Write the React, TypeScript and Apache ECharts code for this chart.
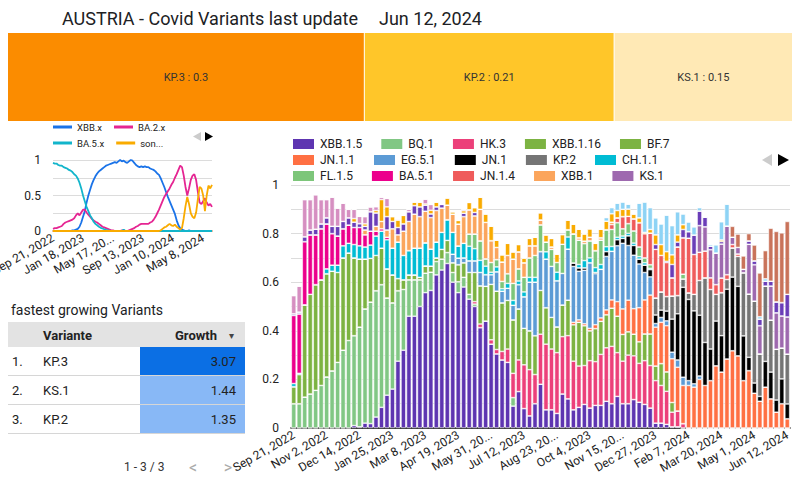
import React, { useEffect, useRef } from "react";
import * as echarts from "echarts";

// ---------- categories (weekly) ----------
const weeks = [
  "2022-09-21","2022-09-28","2022-10-05","2022-10-12","2022-10-19","2022-10-26","2022-11-02","2022-11-09","2022-11-16","2022-11-23",
  "2022-11-30","2022-12-07","2022-12-14","2022-12-21","2022-12-28","2023-01-04","2023-01-11","2023-01-18","2023-01-25","2023-02-01",
  "2023-02-08","2023-02-15","2023-02-22","2023-03-01","2023-03-08","2023-03-15","2023-03-22","2023-03-29","2023-04-05","2023-04-12",
  "2023-04-19","2023-04-26","2023-05-03","2023-05-10","2023-05-17","2023-05-24","2023-05-31","2023-06-07","2023-06-14","2023-06-21",
  "2023-06-28","2023-07-05","2023-07-12","2023-07-19","2023-07-26","2023-08-02","2023-08-09","2023-08-16","2023-08-23","2023-08-30",
  "2023-09-06","2023-09-13","2023-09-20","2023-09-27","2023-10-04","2023-10-11","2023-10-18","2023-10-25","2023-11-01","2023-11-08",
  "2023-11-15","2023-11-22","2023-11-29","2023-12-06","2023-12-13","2023-12-20","2023-12-27","2024-01-03","2024-01-10","2024-01-17",
  "2024-01-24","2024-01-31","2024-02-07","2024-02-14","2024-02-21","2024-02-28","2024-03-06","2024-03-13","2024-03-20","2024-03-27",
  "2024-04-03","2024-04-10","2024-04-17","2024-04-24","2024-05-01","2024-05-08","2024-05-15","2024-05-22","2024-05-29","2024-06-05",
  "2024-06-12",
];

const barTickLabels = [
  "Sep 21, 2022","Nov 2, 2022","Dec 14, 2022","Jan 25, 2023","Mar 8, 2023","Apr 19, 2023","May 31, 20...","Jul 12, 2023",
  "Aug 23, 20...","Oct 4, 2023","Nov 15, 20...","Dec 27, 2023","Feb 7, 2024","Mar 20, 2024","May 1, 2024","Jun 12, 2024",
];
const lineTickLabels = ["Sep 21, 2022","Jan 18, 2023","May 17, 20...","Sep 13, 2023","Jan 10, 2024","May 8, 2024"];
const yTickLabelsBar = ["0","0.2","0.4","0.6","0.8","1"];
const yTickLabelsLine = ["0","0.5","1"];

// ---------- stacked bar series (variant shares) ----------
const XBB15 = [
  0,0,0,0,0,0,0,0,0,0,
  0,0.01,0.005,0.02,0.018,0.045,0.085,0.135,0.16,0.275,
  0.32,0.46,0.46,0.5,0.557,0.566,0.63,0.65,0.677,0.6,
  0.557,0.58,0.53,0.5,0.413,0.44,0.345,0.305,0.28,0.27,
  0.09,0.15,0.08,0.05,0.1,0.18,0.075,0.075,0.06,0.14,
  0.12,0.075,0.085,0.097,0.082,0.093,0.093,0.11,0.1,0.13,
  0.1,0.1,0.117,0.106,0.097,0.082,0.02,0.02,0.015,0.005,
  0.005,0,0,0,0,0,0,0,0,0,
  0,0,0,0,0,0,0,0,0,0,0,
];
const BQ1 = [
  0.1,0.1,0.127,0.14,0.155,0.175,0.21,0.235,0.27,0.32,
  0.36,0.37,0.41,0.47,0.5,0.52,0.505,0.4,0.355,0.29,
  0.25,0.15,0.15,0.11,0.08,0.075,0.055,0.045,0.045,0.04,
  0.045,0.04,0.02,0.01,0,0,0,0,0,0,
  0.035,0,0,0,0,0,0,0,0,0,
  0,0,0,0,0,0,0,0,0,0,
  0,0,0,0,0,0,0,0,0,0,
  0,0,0,0,0,0,0,0,0,0,
  0,0,0,0,0,0,0,0,0,0,0,
];
const HK3 = [
  0,0,0,0,0,0,0,0,0,0,
  0,0,0,0,0,0,0,0,0,0,
  0,0,0,0,0,0,0,0,0,0,
  0,0,0,0.01,0.015,0,0.018,0.018,0.035,0.055,
  0.1,0.13,0.18,0.19,0.12,0.206,0.27,0.25,0.25,0.236,
  0.26,0.2,0.17,0.16,0.195,0.18,0.21,0.22,0.236,0.18,
  0.175,0.2,0.18,0.16,0.18,0.175,0.175,0.155,0.136,0.06,
  0.065,0.018,0,0,0,0,0,0,0,0,
  0,0,0,0,0,0,0,0,0,0,0,
];
const XBB116 = [
  0,0,0,0,0,0,0,0,0,0,
  0,0,0,0,0,0,0,0,0,0,
  0,0,0,0,0.03,0.025,0.015,0.04,0.05,0.04,
  0.07,0.06,0.09,0.12,0.157,0.143,0.228,0.24,0.2,0.2,
  0.22,0.21,0.15,0.16,0.16,0.18,0.15,0.13,0.106,0.13,
  0.146,0.15,0.18,0.164,0.123,0.136,0.136,0.136,0.157,0.15,
  0.11,0.096,0.089,0.089,0.11,0.13,0.06,0.09,0.08,0.04,
  0,0,0,0,0,0,0,0,0,0,
  0,0,0,0,0,0,0,0,0,0,0,
];
const BF7 = [
  0.07,0.12,0.38,0.41,0.435,0.435,0.425,0.41,0.37,0.38,
  0.36,0.32,0.28,0.205,0.18,0.145,0.15,0.12,0.115,0.05,
  0.04,0.02,0.02,0.01,0,0,0,0,0,0,
  0,0,0,0,0,0,0,0,0,0,
  0,0,0,0,0,0,0,0,0,0,
  0,0,0,0,0,0,0,0,0,0,
  0,0,0,0,0,0,0,0,0,0,
  0,0,0,0,0,0,0,0,0,0,
  0,0,0,0,0,0,0,0,0,0,0,
];
const JN11 = [
  0,0,0,0,0,0,0,0,0,0,
  0,0,0,0,0,0,0,0,0,0,
  0,0,0,0,0,0,0,0,0,0,
  0,0,0,0,0,0,0,0,0,0,
  0,0,0,0,0,0,0,0,0,0,
  0,0.01,0.01,0.008,0.01,0.016,0.014,0.02,0.034,0.06,
  0.105,0.13,0.105,0.14,0.14,0.16,0.16,0.17,0.19,0.18,
  0.18,0.157,0.175,0.168,0.2,0.175,0.195,0.256,0.23,0.284,
  0.318,0.297,0.195,0.236,0.143,0.11,0.168,0.12,0.065,0.1,0.038,
];
const EG51 = [
  0,0,0,0,0,0,0,0,0,0,
  0,0,0,0,0,0,0,0,0,0,
  0,0,0,0,0,0,0,0,0,0.035,
  0.027,0.02,0.048,0.048,0.055,0.048,0.04,0.08,0.048,0.05,
  0.06,0.1,0.13,0.2,0.22,0.16,0.2,0.21,0.19,0.13,
  0.21,0.23,0.2,0.22,0.27,0.21,0.2,0.22,0.2,0.23,
  0.27,0.225,0.22,0.18,0.113,0.075,0.015,0.02,0.02,0.027,
  0.03,0.034,0.02,0.014,0.014,0,0,0,0,0,
  0,0,0,0,0,0,0,0,0,0,0,
];
const JN1 = [
  0,0,0,0,0,0,0,0,0,0,
  0,0,0,0,0,0,0,0,0,0,
  0,0,0,0,0,0,0,0,0,0,
  0,0,0,0,0,0,0,0,0,0,
  0,0,0,0,0,0,0,0,0,0,
  0,0.014,0.014,0.01,0,0.005,0,0.02,0,0.025,
  0.02,0.04,0.04,0.02,0.03,0.03,0.035,0.03,0.04,0.136,
  0.19,0.37,0.334,0.3,0.25,0.177,0.13,0.184,0.15,0.287,
  0.303,0.286,0.184,0.055,0.042,0.02,0.106,0.11,0.05,0.102,0.061,
];
const KP2 = [
  0,0,0,0,0,0,0,0,0,0,
  0,0,0,0,0,0,0,0,0,0,
  0,0,0,0,0,0,0,0,0,0,
  0,0,0,0,0,0,0,0,0,0,
  0,0,0,0,0,0,0,0,0,0,
  0,0,0,0,0,0,0,0,0,0,
  0,0,0,0,0,0,0.07,0.075,0.06,0.095,
  0.075,0.034,0.027,0.068,0.143,0.266,0.245,0.11,0.177,0.04,
  0.12,0.123,0.26,0.26,0.337,0.175,0.31,0.214,0.209,0.127,0.205,
];
const CH11 = [
  0.013,0.005,0,0,0,0,0.02,0.025,0.03,0.05,
  0.04,0.055,0.055,0.05,0.055,0.08,0.07,0.12,0.11,0.15,
  0.1,0.1,0.11,0.12,0.095,0.07,0.065,0.07,0.085,0.09,
  0.05,0.06,0.06,0.05,0.05,0.035,0.01,0.02,0.01,0.02,
  0.02,0.015,0.02,0.02,0.02,0,0.03,0,0.035,0,
  0.05,0,0.014,0.03,0.02,0.02,0.02,0.02,0.02,0.01,
  0.01,0.01,0.01,0.01,0.01,0.005,0,0,0,0,
  0,0,0,0,0,0,0,0,0,0,
  0,0,0,0,0,0,0,0,0,0,0,
];
const FL15 = [
  0,0,0,0,0,0,0,0,0,0,
  0,0,0,0,0,0,0,0,0,0,
  0,0,0,0,0,0,0,0,0,0,
  0,0,0.05,0.06,0.08,0.03,0.04,0.03,0.03,0.04,
  0.07,0.05,0.06,0.08,0.09,0.11,0.04,0.07,0.04,0.12,
  0.03,0.12,0.1,0.07,0.07,0.07,0.1,0.07,0.07,0.06,
  0.03,0.04,0.05,0.04,0.02,0.015,0,0,0,0,
  0,0.02,0,0,0,0,0,0,0,0,
  0,0,0,0,0,0,0,0,0,0,0,
];
const BA51 = [
  0.28,0.245,0.26,0.245,0.205,0.21,0.185,0.13,0.12,0.07,
  0.075,0.07,0.075,0.05,0.057,0.02,0.01,0.01,0,0,
  0,0,0,0,0,0,0,0,0,0,
  0,0,0,0,0,0,0,0,0,0,
  0,0,0,0,0,0,0,0,0,0,
  0,0,0,0,0,0,0,0,0,0,
  0,0,0,0,0,0,0,0,0,0,
  0,0,0,0,0,0,0,0,0,0,
  0,0,0,0,0,0,0,0,0,0,0,
];
const JN14 = [
  0,0,0,0,0,0,0,0,0,0,
  0,0,0,0,0,0,0,0,0,0,
  0,0,0,0,0,0,0,0,0,0,
  0,0,0,0,0,0,0,0,0,0,
  0,0,0,0,0,0,0,0,0,0,
  0,0,0,0,0,0,0,0,0.02,0.02,
  0.05,0.03,0.05,0.1,0.1,0.13,0.2,0.15,0.14,0.075,
  0.2,0.15,0.225,0.164,0.116,0.11,0.048,0.04,0.06,0.02,
  0.014,0.01,0,0,0,0,0,0,0,0,0,
];
const XBB1 = [
  0,0,0,0,0,0,0,0,0,0,
  0,0,0,0.02,0,0.02,0.03,0.03,0.08,0.03,
  0.1,0.12,0.14,0.13,0.13,0.13,0.13,0.1,0.06,0.075,
  0.09,0.11,0.1,0.075,0.13,0.15,0.09,0.05,0.08,0.075,
  0.1,0.07,0.06,0.05,0.04,0.02,0,0.01,0,0,
  0,0,0.01,0.01,0.015,0,0.01,0,0.01,0,
  0,0,0,0,0,0,0,0,0,0,
  0,0,0,0,0,0,0,0,0,0,
  0,0,0,0,0,0,0,0,0,0,0,
];
const KS1 = [
  0,0,0,0,0,0,0,0,0,0,
  0,0,0,0,0,0,0,0,0,0,
  0,0,0,0,0,0,0,0,0,0,
  0,0,0,0,0,0,0,0,0,0,
  0,0,0,0,0,0,0,0,0,0,
  0,0,0,0,0,0,0,0,0,0,
  0,0,0,0,0,0,0,0,0,0,
  0,0,0,0,0.11,0.1,0.116,0.13,0.14,0.2,
  0.03,0.027,0.014,0.205,0.15,0.116,0,0.14,0.15,0.132,0.153,
];
const BN1 = [
  0.007,0.007,0.02,0.02,0.023,0.02,0.025,0.03,0.04,0.03,
  0.03,0.022,0.016,0.015,0.08,0.055,0,0.055,0.03,0.03,
  0.03,0.04,0.035,0.04,0.025,0.015,0.015,0.015,0,0,
  0,0.014,0,0.014,0,0,0,0,0,0,
  0,0,0,0,0,0,0,0,0,0,
  0,0,0,0,0,0,0,0,0,0,
  0,0,0,0,0,0,0,0,0,0,
  0,0,0,0,0,0,0,0,0,0,
  0,0,0,0,0,0,0,0,0,0,0,
];
const KP11 = [
  0,0,0,0,0,0,0,0,0,0,
  0,0,0,0,0,0,0,0,0,0,
  0,0,0,0,0,0,0,0,0,0,
  0,0,0,0,0,0,0,0,0,0,
  0,0,0,0,0,0,0,0,0,0,
  0,0,0,0,0,0,0,0,0,0,
  0,0,0,0,0,0,0.02,0,0.005,0.055,
  0.02,0.034,0.027,0.08,0.06,0.04,0.014,0,0.01,0,
  0,0,0,0.014,0.016,0.027,0.02,0.02,0.045,0.055,0.093,
];
const XBB19 = [
  0,0,0,0,0,0,0,0,0,0,
  0,0.015,0,0.01,0,0.01,0.09,0.04,0.02,0.03,
  0.035,0,0.015,0.02,0.005,0.015,0.02,0,0.03,0.01,
  0.015,0.01,0.03,0.02,0.05,0.035,0.06,0.03,0.03,0.05,
  0.03,0.03,0.02,0.03,0.035,0.03,0.03,0.035,0.035,0.04,
  0.04,0.04,0.035,0.03,0.035,0.03,0.035,0.035,0.035,0.03,
  0.03,0.03,0.02,0.02,0.005,0.015,0.04,0.045,0.04,0.04,
  0.03,0.02,0,0,0,0,0,0,0.007,0,
  0,0,0,0,0,0,0,0,0,0,0,
];
const BA275 = [
  0.075,0.107,0.153,0.125,0.142,0.1,0.075,0.12,0.075,0.075,
  0.035,0.038,0.03,0.03,0.02,0.016,0.01,0.035,0,0.005,
  0,0.01,0,0,0.02,0.024,0,0,0,0,
  0,0.006,0,0,0,0,0,0,0,0,
  0,0,0,0,0,0,0,0,0,0,
  0,0,0,0,0,0,0,0,0,0,
  0,0,0,0,0,0,0,0,0,0,
  0,0,0,0,0,0,0,0,0,0,
  0,0,0,0,0,0,0,0,0,0,0,
];
const JN17 = [
  0,0,0,0,0,0,0,0,0,0,
  0,0,0,0,0,0,0,0,0,0,
  0,0,0,0,0,0,0,0,0,0,
  0,0,0,0,0,0,0,0,0,0,
  0,0,0,0,0,0,0,0,0,0,
  0,0,0,0,0,0,0,0.015,0.025,0.03,
  0.03,0.02,0,0.06,0.125,0.09,0.07,0.085,0.15,0.12,
  0.095,0.044,0.04,0.034,0.014,0,0.007,0.034,0.075,0.09,
  0,0,0,0,0,0.01,0.01,0,0,0,0,
];
const KP3 = [
  0,0,0,0,0,0,0,0,0,0,
  0,0,0,0,0,0,0,0,0,0,
  0,0,0,0,0,0,0,0,0,0,
  0,0,0,0,0,0,0,0,0,0,
  0,0,0,0,0,0,0,0,0,0,
  0,0,0,0,0,0,0,0,0,0,
  0,0,0,0,0,0,0,0,0,0,
  0,0,0,0,0,0,0,0,0,0,
  0.045,0.055,0.055,0.03,0.065,0.18,0.116,0.218,0.29,0.287,0.3,
];

// ---------- line chart series (lineage groups) ----------
const XBBx = [
  0,0,0,0,0,0,0,0,0,0,
  0,0.01,0.01,0.02,0.03,0.06,0.12,0.2,0.28,0.4,
  0.5,0.58,0.66,0.72,0.77,0.81,0.84,0.86,0.88,0.9,
  0.92,0.93,0.94,0.95,0.96,0.97,0.96,0.98,1,0.98,
  0.99,0.97,0.96,0.98,1,0.99,0.96,0.93,0.91,0.9,
  0.91,0.9,0.91,0.9,0.9,0.88,0.87,0.86,0.84,0.81,
  0.79,0.74,0.68,0.62,0.55,0.48,0.42,0.36,0.3,0.24,
  0.15,0.08,0.04,0.02,0.01,0,0,0.01,0,0,
  0,0,0,0,0,0,0,0,0,0,0,
];
const BA2x = [
  0.03,0.04,0.04,0.05,0.06,0.07,0.1,0.12,0.13,0.14,
  0.15,0.16,0.18,0.22,0.25,0.22,0.26,0.3,0.3,0.26,
  0.23,0.2,0.17,0.15,0.13,0.12,0.1,0.08,0.06,0.05,
  0.04,0.03,0.02,0.01,0.01,0,0,0,0,0.01,
  0.01,0,0,0.01,0.02,0.03,0.04,0.06,0.07,0.09,
  0.1,0.1,0.1,0.1,0.1,0.12,0.13,0.16,0.2,0.25,
  0.3,0.36,0.42,0.48,0.52,0.56,0.6,0.65,0.69,0.75,
  0.8,0.86,0.92,0.9,0.78,0.62,0.5,0.6,0.72,0.78,
  0.8,0.72,0.55,0.4,0.38,0.42,0.46,0.4,0.36,0.38,0.34,
];
const BA5x = [
  0.96,0.95,0.95,0.93,0.92,0.92,0.9,0.89,0.88,0.86,
  0.85,0.83,0.8,0.78,0.74,0.68,0.6,0.5,0.42,0.34,
  0.28,0.22,0.18,0.13,0.1,0.08,0.06,0.045,0.035,0.025,
  0.015,0.01,0.005,0,0,0,0,0,0,0,
  0.02,0,0,0,0,0,0,0,0,0,
  0,0,0,0,0,0,0,0,0,0,
  0,0,0,0,0,0,0,0,0,0,
  0,0,0,0,0,0,0,0,0,0,
  0,0,0,0,0,0,0,0,0,0,0,
];
const OTHERS = [
  0,0,0,0,0,0,0,0,0,0,
  0,0,0,0,0,0,0,0,0,0,
  0,0,0,0,0,0,0,0,0,0,
  0,0,0,0,0,0,0,0,0,0,
  0,0,0,0,0,0,0,0,0,0,
  0,0,0,0,0,0,0,0,0,0,
  0,0.01,0.03,0.05,0.06,0.08,0.1,0.08,0.07,0.09,
  0.06,0.04,0.02,0.04,0.18,0.35,0.48,0.38,0.25,0.2,
  0.18,0.26,0.45,0.62,0.6,0.5,0.28,0.5,0.64,0.6,0.65,
];

// ---------- treemap + table ----------
const latestNames = ["KP.3", "KP.2", "KS.1"];
const latestShares = [0.3, 0.21, 0.15];
const latestColors = ["#fb8c00", "#ffc629", "#ffe9b5"];

const tableVariants = ["KP.3", "KS.1", "KP.2"];
const tableGrowth = [3.07, 1.44, 1.35];

const barDefs: [string, string, number[]][] = [
  ["XBB.1.5", "#5e35b1", XBB15],
  ["BQ.1", "#81c784", BQ1],
  ["HK.3", "#ec407a", HK3],
  ["XBB.1.16", "#7cb342", XBB116],
  ["BF.7", "#7cb342", BF7],
  ["JN.1.1", "#ff7043", JN11],
  ["EG.5.1", "#5c9bd5", EG51],
  ["JN.1", "#000000", JN1],
  ["KP.2", "#757575", KP2],
  ["CH.1.1", "#00bcd4", CH11],
  ["FL.1.5", "#7dc67a", FL15],
  ["BA.5.1", "#ec008c", BA51],
  ["JN.1.4", "#ef5b5b", JN14],
  ["XBB.1", "#fba55c", XBB1],
  ["KS.1", "#9e69af", KS1],
  ["BN.1", "#6a3db8", BN1],
  ["KP.1.1", "#6a3db8", KP11],
  ["XBB.1.9", "#f9ab00", XBB19],
  ["BA.2.75", "#d68fc1", BA275],
  ["JN.1.7", "#8dd3f5", JN17],
  ["KP.3", "#c9735a", KP3],
];

const lineDefs: [string, string, number[]][] = [
  ["XBB.x", "#1a73e8", XBBx],
  ["BA.2.x", "#e52592", BA2x],
  ["BA.5.x", "#12b5cb", BA5x],
  ["sonstige", "#f9ab00", OTHERS],
];

const legendRows = [
  ["XBB.1.5", "BQ.1", "HK.3", "XBB.1.16", "BF.7"],
  ["JN.1.1", "EG.5.1", "JN.1", "KP.2", "CH.1.1"],
  ["FL.1.5", "BA.5.1", "JN.1.4", "XBB.1", "KS.1"],
];

const FONT = "Roboto";
const TXT = "#222";

function buildOption() {
  const maxGrowth = Math.max(...tableGrowth);
  const graphics: any[] = [
    { type: "text", x: 62, y: 18, style: { text: "AUSTRIA - Covid Variants last update", fontSize: 18, fontFamily: FONT, fill: "#202124", verticalAlign: "middle" } },
    { type: "text", x: 379, y: 18, style: { text: "Jun 12, 2024", fontSize: 18, fontFamily: FONT, fill: "#202124", verticalAlign: "middle" } },
    { type: "text", x: 11, y: 310, style: { text: "fastest growing Variants", fontSize: 14, fontFamily: FONT, fill: "#202124", verticalAlign: "middle" } },
    { type: "rect", shape: { x: 8, y: 322, width: 237, height: 25 }, style: { fill: "#e3e3e3" } },
    { type: "text", x: 43, y: 335, style: { text: "Variante", fontSize: 13, fontWeight: "bold", fontFamily: FONT, fill: TXT, verticalAlign: "middle" } },
    { type: "text", x: 217, y: 335, style: { text: "Growth", fontSize: 13, fontWeight: "bold", fontFamily: FONT, fill: TXT, align: "right", verticalAlign: "middle" } },
    { type: "text", x: 231, y: 335, style: { text: "▾", fontSize: 10, fontFamily: FONT, fill: "#444", align: "center", verticalAlign: "middle" } },
    { type: "text", x: 124, y: 467, style: { text: "1 - 3 / 3", fontSize: 12, fontFamily: FONT, fill: "#333", verticalAlign: "middle" } },
    { type: "text", x: 193, y: 467, style: { text: "<", fontSize: 16, fontFamily: FONT, fill: "#aaa", align: "center", verticalAlign: "middle" } },
    { type: "text", x: 228, y: 467, style: { text: ">", fontSize: 16, fontFamily: FONT, fill: "#aaa", align: "center", verticalAlign: "middle" } },
    // legend page arrows (bar chart)
    { type: "polygon", shape: { points: [[772, 154], [772, 166], [762, 160]] }, style: { fill: "#cccccc" } },
    { type: "polygon", shape: { points: [[778, 154], [778, 166], [789, 160]] }, style: { fill: "#000" } },
    // legend page arrows (line chart)
    { type: "polygon", shape: { points: [[201, 132], [201, 141], [193, 136.5]] }, style: { fill: "#cccccc" } },
    { type: "polygon", shape: { points: [[205, 132], [205, 141], [213, 136.5]] }, style: { fill: "#000" } },
  ];
  tableVariants.forEach((v, r) => {
    const y0 = 347 + r * 29;
    const g = tableGrowth[r];
    graphics.push(
      { type: "rect", shape: { x: 140, y: y0, width: 105, height: 28 }, style: { fill: g === maxGrowth ? "#0b6fe4" : "#88b8f6" } },
      { type: "text", x: 12, y: y0 + 14, style: { text: `${r + 1}.`, fontSize: 13, fontFamily: FONT, fill: TXT, verticalAlign: "middle" } },
      { type: "text", x: 43, y: y0 + 14, style: { text: v, fontSize: 13, fontFamily: FONT, fill: TXT, verticalAlign: "middle" } },
      { type: "text", x: 236, y: y0 + 14, style: { text: g.toFixed(2), fontSize: 13, fontFamily: FONT, fill: TXT, align: "right", verticalAlign: "middle" } },
      { type: "line", shape: { x1: 8, y1: y0 + 28.5, x2: 245, y2: y0 + 28.5 }, style: { stroke: "#d6d6d6", lineWidth: 1 } },
    );
  });

  const barLegends = legendRows.map((row, k) => ({
    data: row,
    left: 291,
    top: 137 + k * 16,
    padding: 0,
    icon: "rect",
    itemWidth: 23,
    itemHeight: 12,
    itemGap: 17,
    selectedMode: false,
    textStyle: { fontSize: 12, color: TXT, fontFamily: FONT },
  }));
  const lineLegends = [
    ["XBB.x", "BA.2.x"],
    ["BA.5.x", "sonstige"],
  ].map((row, k) => ({
    data: row,
    left: 53,
    top: 122 + k * 16,
    padding: 0,
    icon: "rect",
    itemWidth: 19,
    itemHeight: 3,
    itemGap: 12,
    selectedMode: false,
    formatter: (n: string) => (n === "sonstige" ? "son..." : n),
    textStyle: { fontSize: 9.5, color: TXT, fontFamily: FONT },
  }));

  const series: any[] = [
    {
      type: "treemap",
      left: 8,
      top: 33,
      width: 784,
      height: 88,
      roam: false,
      nodeClick: false,
      breadcrumb: { show: false },
      silent: true,
      label: { show: true, position: "inside", formatter: "{b} : {c}", color: "#333", fontSize: 11, fontFamily: FONT },
      levels: [
        { itemStyle: { gapWidth: 1, borderWidth: 0, borderColor: "#fff" } },
        { itemStyle: { borderWidth: 0 } },
      ],
      data: latestNames.map((n, i) => ({ name: n, value: latestShares[i], itemStyle: { color: latestColors[i] } })),
    },
    ...lineDefs.map(([name, color, data]) => ({
      type: "line",
      name,
      data,
      xAxisIndex: 0,
      yAxisIndex: 0,
      symbol: "none",
      color,
      lineStyle: { color, width: 1.8 },
      emphasis: { disabled: true },
    })),
    ...barDefs.map(([name, color, data]) => ({
      type: "bar",
      name,
      data,
      stack: "share",
      xAxisIndex: 1,
      yAxisIndex: 1,
      barCategoryGap: "12%",
      color,
      itemStyle: { color, borderColor: "#ffffff", borderWidth: 0.6 },
      emphasis: { disabled: true },
    })),
  ];

  return {
    animation: false,
    backgroundColor: "#ffffff",
    textStyle: { fontFamily: FONT },
    legend: [...barLegends, ...lineLegends],
    grid: [
      { left: 53, top: 160, width: 159, height: 71, containLabel: false, outerBoundsMode: "none" },
      { left: 291, top: 185, width: 499, height: 243, containLabel: false, outerBoundsMode: "none" },
    ],
    xAxis: [
      {
        gridIndex: 0,
        type: "category",
        data: weeks,
        boundaryGap: false,
        axisTick: { show: false },
        axisLine: { lineStyle: { color: "#c8641e", width: 1.5 } },
        axisLabel: {
          interval: 16,
          rotate: 30,
          margin: 6,
          fontSize: 12,
          color: TXT,
          formatter: (v: string) => lineTickLabels[weeks.indexOf(v) / 17] ?? "",
        },
      },
      {
        gridIndex: 1,
        type: "category",
        data: weeks,
        axisTick: { show: false },
        axisLine: { lineStyle: { color: "#000", width: 1.5 } },
        axisLabel: {
          interval: 5,
          rotate: 30,
          margin: 6,
          fontSize: 12,
          color: TXT,
          formatter: (v: string) => barTickLabels[weeks.indexOf(v) / 6] ?? "",
        },
      },
    ],
    yAxis: [
      {
        gridIndex: 0,
        type: "value",
        min: 0,
        max: 1,
        interval: 0.25,
        axisLine: { show: false },
        axisTick: { show: false },
        splitLine: { lineStyle: { color: "#dcdcdc" } },
        axisLabel: {
          fontSize: 12,
          color: TXT,
          margin: 12,
          formatter: (v: number) => yTickLabelsLine[Math.round(v * 4) / 2] ?? "",
        },
      },
      {
        gridIndex: 1,
        type: "value",
        min: 0,
        max: 1,
        interval: 0.1,
        axisLine: { show: false },
        axisTick: { show: false },
        splitLine: { lineStyle: { color: "#dcdcdc" } },
        axisLabel: {
          fontSize: 12,
          color: TXT,
          margin: 12,
          formatter: (v: number) => yTickLabelsBar[Math.round(v * 10) / 2] ?? "",
        },
      },
    ],
    graphic: { elements: graphics },
    series,
  };
}

export default function App() {
  const ref = useRef<HTMLDivElement>(null);
  useEffect(() => {
    if (!ref.current) return;
    const chart = echarts.init(ref.current, undefined, { renderer: "svg" });
    chart.setOption(buildOption() as any);
    return () => chart.dispose();
  }, []);
  return (
    <div
      ref={ref}
      style={{ position: "fixed", left: 0, top: 0, width: 800, height: 480, background: "#fff" }}
    />
  );
}
